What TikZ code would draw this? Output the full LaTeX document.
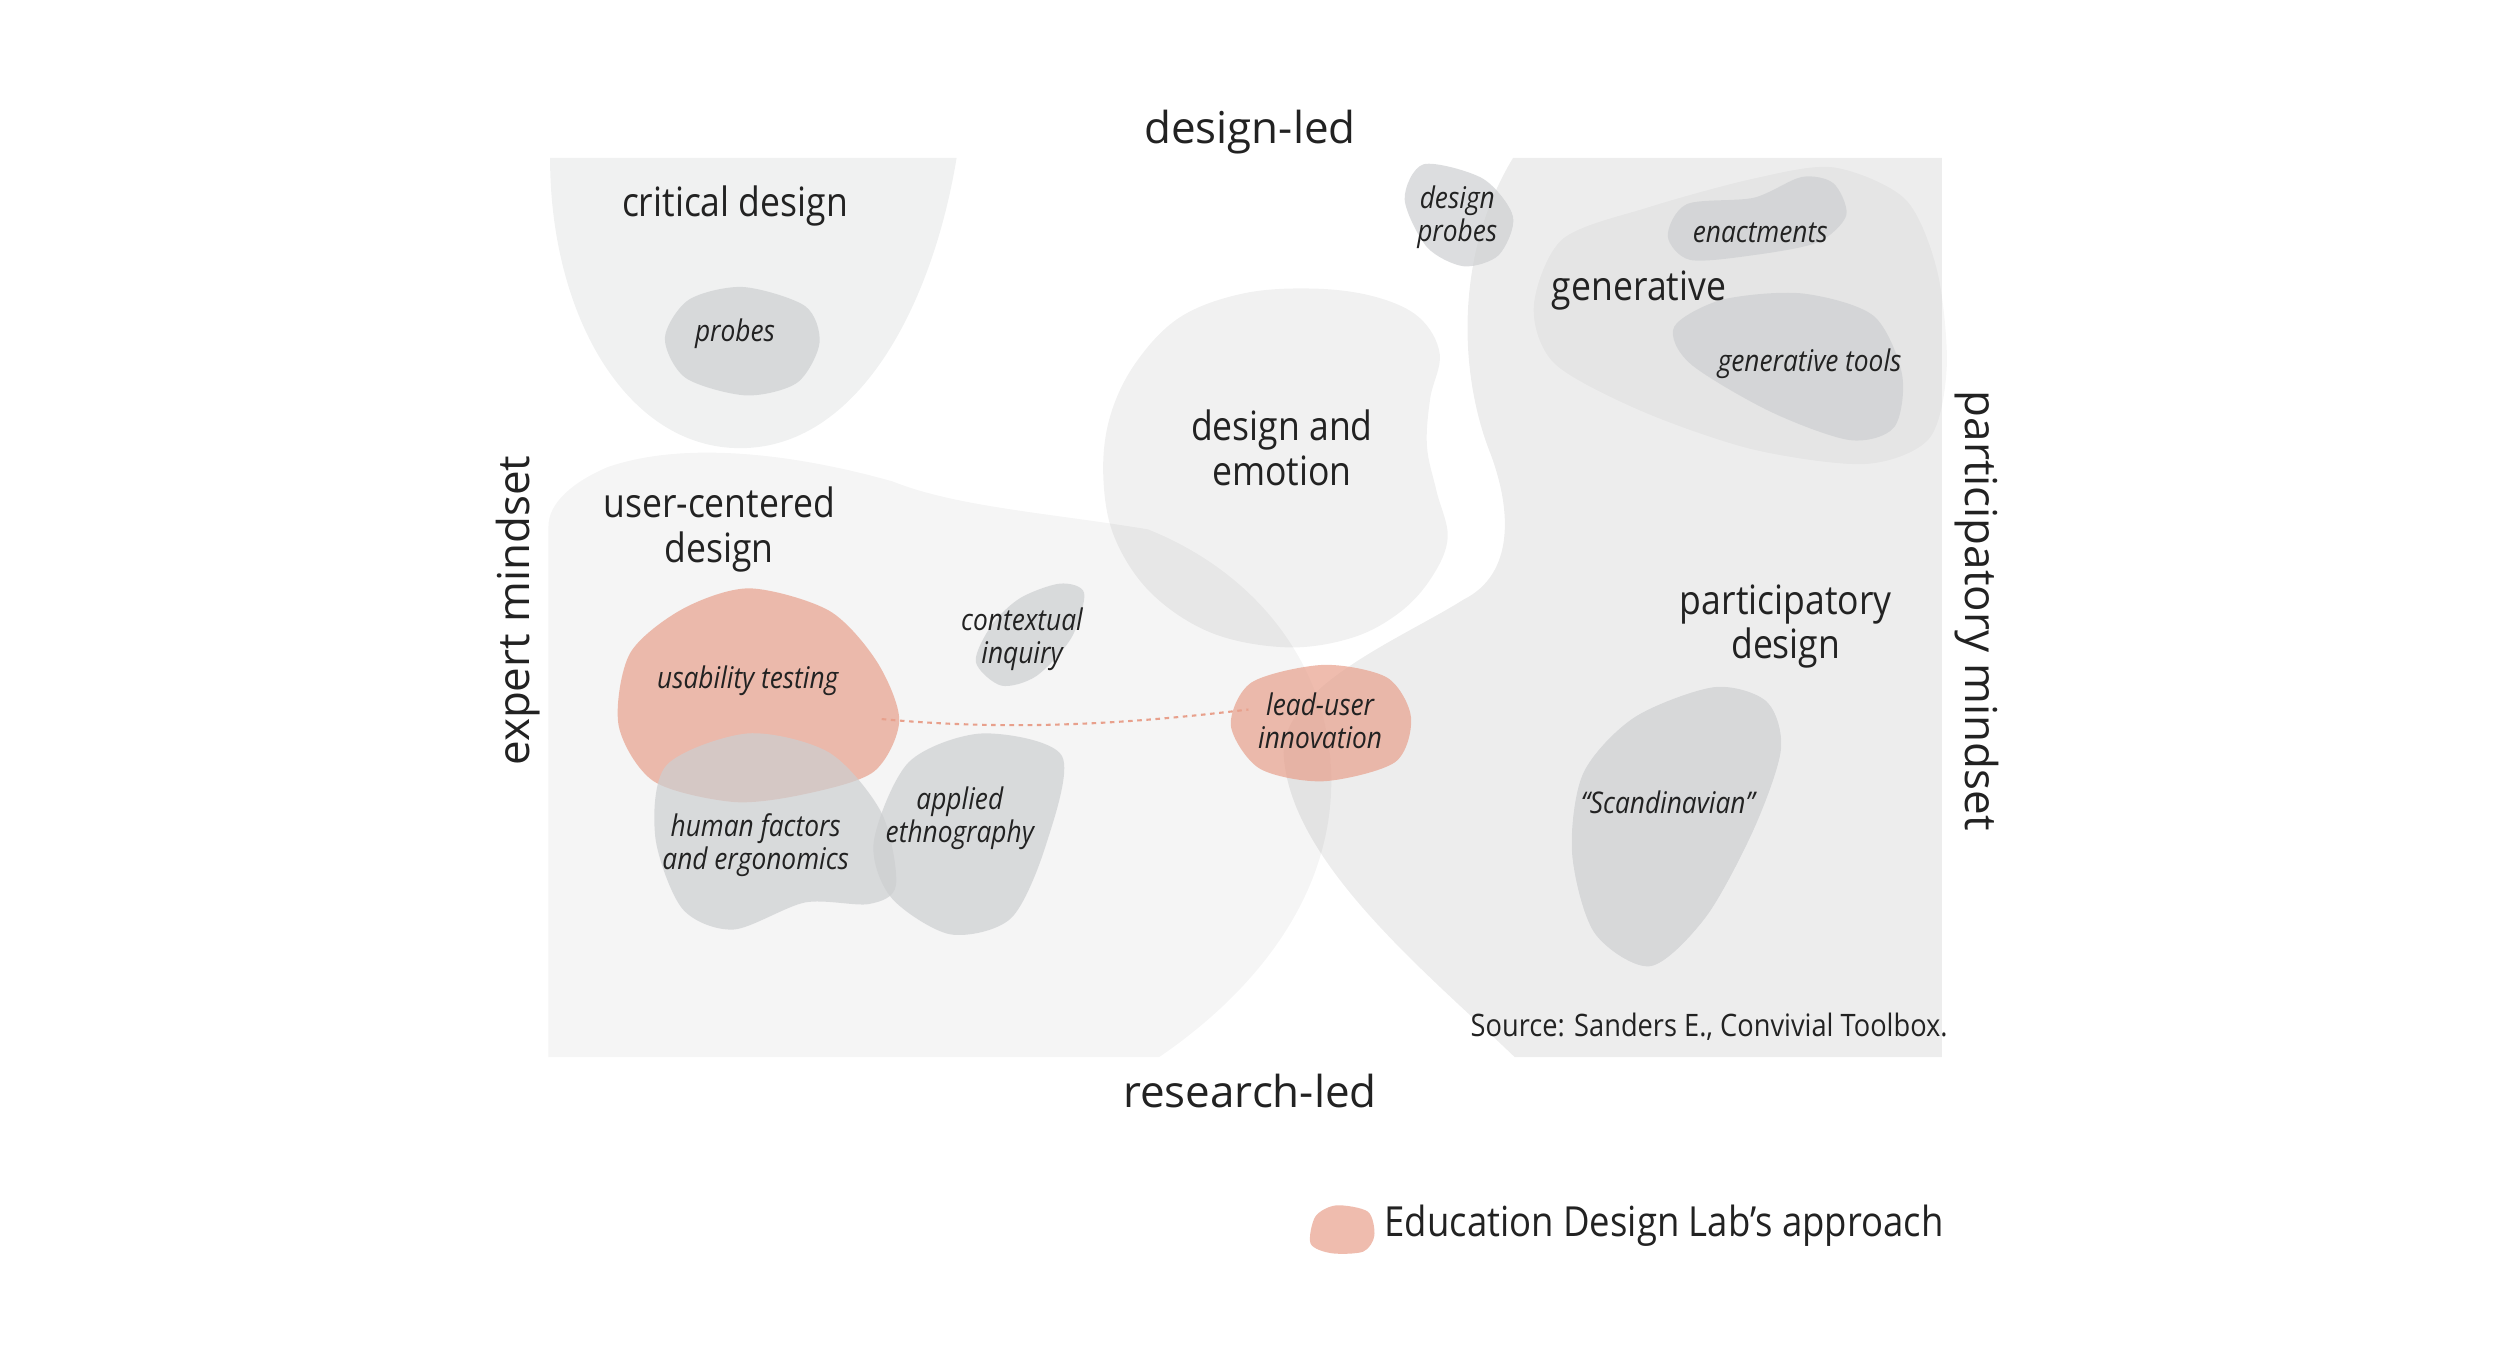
\documentclass[tikz,border=0pt]{standalone}
\usepackage{fontspec}
\setmainfont{Open Sans}
\newfontfamily\narrowfont[FakeStretch=0.88]{Open Sans}
\usepackage{xcolor}
\usetikzlibrary{positioning}
\definecolor{inkgray}{HTML}{222222}
\definecolor{critgray}{HTML}{F0F1F1}
\definecolor{ucdgray}{HTML}{F5F5F5}
\definecolor{blobgray}{RGB}{205,207,209}
\definecolor{salmon}{RGB}{232,160,140}
\tikzset{
axislabel/.style={
font=\fontsize{12.5}{14}\selectfont,
text=inkgray
},
regionlabel/.style={
align=center,
font=\narrowfont\fontsize{11.5}{12.7}\selectfont,
text=inkgray
},
methodlabel/.style={
align=center,
font=\narrowfont\itshape\fontsize{8.5}{9.4}\selectfont,
text=inkgray
},
region/.style={fill=black,fill opacity=#1},
region/.default=0.06,
grayblob/.style={fill=blobgray,fill opacity=0.7},
edlblob/.style={fill=salmon,fill opacity=0.7},
link/.style={salmon,line width=0.6pt,dash pattern=on 1.3pt off 1.3pt}
}

\begin{document}
\begin{tikzpicture}[x=0.015944cm,y=-0.015944cm]
\useasboundingbox (0,0) rectangle (1568,856);

% big regions
\fill[ucdgray] (344,663) -- (727,663)
  .. controls (790,620) and (835,560) .. (835,490)
  .. controls (835,420) and (790,360) .. (720,332)
  .. controls (660,322) and (600,318) .. (560,302)
  .. controls (500,285) and (430,276) .. (381,293)
  .. controls (360,302) and (344,315) .. (344,330) -- cycle;
\fill[critgray] (345,99) -- (600,99)
  .. controls (585,190) and (540,278) .. (468,281)
  .. controls (395,284) and (345,200) .. cycle;
\fill[region=0.055] plot[smooth cycle,tension=0.6] coordinates {(824,181) (862,186) (890,199) (903,222) (897,250) (895,280) (901,308) (908,337) (898,362) (878,384) (848,400) (807,406) (760,397) (722,372) (699,337) (692,299) (696,262) (712,228) (740,199) (780,184)};
\fill[region=0.07] (949,99) -- (1218,99) -- (1218,663) -- (950,663)
  .. controls (895,610) and (808,540) .. (805,472)
  .. controls (805,430) and (880,400) .. (918,376)
  .. controls (950,360) and (948,320) .. (935,285)
  .. controls (915,235) and (912,160) .. cycle;
\fill[region=0.035] plot[smooth cycle] coordinates {(962,192) (980,150) (1034,130) (1100,112) (1150,105) (1195,125) (1215,170) (1221,230) (1210,275) (1170,291) (1100,282) (1030,258) (975,228)};

% methods
\fill[grayblob] plot[smooth cycle] coordinates {(466,180) (505,192) (514,215) (500,240) (468,248) (430,237) (417,212) (432,188)};
\fill[grayblob] plot[smooth cycle] coordinates {(893,103) (930,112) (949,136) (940,160) (918,167) (895,155) (881,125)};
\fill[grayblob] plot[smooth cycle] coordinates {(1058,128) (1100,124) (1130,111) (1150,115) (1158,135) (1140,152) (1100,160) (1060,163) (1046,148)};
\fill[grayblob] plot[smooth cycle] coordinates {(1130,184) (1175,198) (1193,235) (1188,268) (1160,276) (1110,258) (1060,228) (1050,205) (1080,188)};
\fill[grayblob] plot[smooth cycle] coordinates {(1075,431) (1108,440) (1117,470) (1100,520) (1070,575) (1035,606) (1000,585) (986,535) (993,485) (1025,450)};
\fill[grayblob] plot[smooth cycle] coordinates {(665,366) (680,372) (672,400) (650,424) (628,430) (612,415) (622,392) (640,375)};
\fill[edlblob] plot[smooth cycle] coordinates {(470,369) (520,383) (550,415) (564,452) (548,484) (505,498) (460,503) (410,490) (388,455) (395,410) (428,382)};
\fill[grayblob] plot[smooth cycle] coordinates {(469,460) (520,472) (553,510) (562,555) (545,567) (505,566) (460,583) (428,570) (411,525) (418,480)};
\fill[grayblob] plot[smooth cycle] coordinates {(616,460) (666,474) (656,530) (634,576) (596,586) (559,563) (548,528) (570,478)};
\fill[edlblob] plot[smooth cycle] coordinates {(830,417) (870,425) (885,450) (875,478) (830,490) (790,482) (772,455) (785,428)};

% approach link
\coordinate (ut-end) at (553,451);
\coordinate (lu-end) at (783,445);
\draw[link] (ut-end) .. controls (630,458) and (700,455) .. (lu-end);

% axes
\node[axislabel] (dled) at (784,83) {design-led};
\node[axislabel] (rled) at (784,684) {research-led};
\node[axislabel,rotate=90] (expert) at (325,383) {expert mindset};
\node[axislabel,rotate=-90] (partic) at (1240,383) {participatory mindset};

% regions
\node[regionlabel] (crit) at (461,129) {critical design};
\node[regionlabel] (ucd) at (451,332) {user-centered\\design};
\node[regionlabel] (emo) at (804,281) {design and\\emotion};
\node[regionlabel] (gen) at (1028,182) {generative};
\node[regionlabel] (pd) at (1120,393) {participatory\\design};

% methods
\node[methodlabel] (probes) at (461,209) {probes};
\node[methodlabel] (dprobes) at (914,136) {design\\probes};
\node[methodlabel] (enact) at (1104,146) {enactments};
\node[methodlabel] (gtools) at (1135,228) {generative tools};
\node[methodlabel] (scand) at (1046,503) {“Scandinavian”};
\node[methodlabel] (ci) at (641,401) {contextual\\inquiry};
\node[methodlabel] (ut) at (469,427) {usability testing};
\node[methodlabel] (hf) at (474,530) {human factors\\and ergonomics};
\node[methodlabel] (ae) at (602,513) {applied\\ethnography};
\node[methodlabel] (lu) at (828,452) {lead-user\\innovation};

% source and legend
\node[methodlabel,font=\narrowfont\fontsize{8.8}{10}\selectfont,anchor=east,inner sep=0pt] (src) at (1222,644) {Source: Sanders E., Convivial Toolbox.};
\fill[edlblob] plot[smooth cycle] coordinates {(838,756) (858,760) (862,775) (855,785) (835,786) (822,780) (825,763)};
\node[regionlabel,font=\narrowfont\fontsize{11.8}{13}\selectfont,anchor=west,inner sep=0pt] (legend) at (868,769) {Education Design Lab’s approach};
\end{tikzpicture}
\end{document}
